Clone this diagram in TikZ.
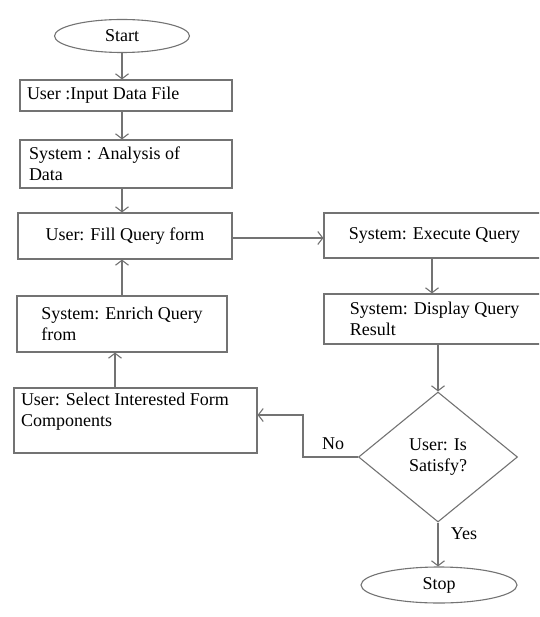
\documentclass[tikz,border=0pt]{standalone}
\usepackage{fontspec}
\setmainfont{Liberation Serif}
\usetikzlibrary{positioning,arrows.meta,shapes.geometric}

\begin{document}
\begin{tikzpicture}[x=1pt,y=-1pt,font=\fontsize{18}{21}\selectfont,
      proc/.style={draw=black!55,line width=1.1pt,inner sep=0pt,align=flush left},
      term/.style={ellipse,draw=black!55,line width=1.1pt,inner sep=0pt},
      decide/.style={diamond,draw=black!55,line width=1.1pt,inner sep=0pt,align=center,minimum width=159pt,minimum height=130pt},
      arr/.style={-{Straight Barb[length=5pt,width=13pt]},draw=black!55,line width=1.1pt}]
    \useasboundingbox (0,0) rectangle (539,617);
    \clip (0,0) rectangle (539,617);
    % left column
    \node[term,minimum width=135pt,minimum height=33pt] (start) at (122,36) {Start};
    \node[proc,minimum width=212pt,minimum height=31pt,text width=198pt] (input) at (126,95.5) {User :Input Data File};
    \node[proc,minimum width=212pt,minimum height=48pt,text width=194pt] (analysis) at (126,164) {System : Analysis of\\Data};
    \node[proc,minimum width=214pt,minimum height=46pt] (fill) at (125,236) {User: Fill Query form};
    \node[proc,minimum width=210pt,minimum height=56pt] (enrich) at (122,324) {System: Enrich Query\\from};
    \node[proc,minimum width=243pt,minimum height=65pt,text width=229pt] (select) at (135.5,420.5) {User: Select Interested Form\\Components\\\mbox{}};
    % right column
    \node[proc,minimum width=221pt,minimum height=45pt] (execute) at (434.5,235.5) {System: Execute Query};
    \node[proc,minimum width=221pt,minimum height=50pt] (display) at (434.5,319) {System: Display Query\\Result};
    \node[decide] (satisfy) at (438,457) {User: Is\\Satisfy?};
    \node[term,minimum width=156pt,minimum height=36pt] (stop) at (439,585) {Stop};
    % connectors
    \draw[arr] (start.south -| 122,0) -- (input.north -| 122,0);
    \draw[arr] (input.south -| 122,0) -- (analysis.north -| 122,0);
    \draw[arr] (analysis.south -| 122,0) -- (fill.north -| 122,0);
    \draw[arr] (enrich.north) -- (fill.south -| enrich.north);
    \draw[arr] (select.north -| 115,0) -- (enrich.south -| 115,0);
    \draw[arr] (fill.east |- 0,238) -- (execute.west |- 0,238);
    \draw[arr] (execute.south -| 432,0) -- (display.north -| 432,0);
    \draw[arr] (display.south -| satisfy.north) -- (satisfy.north);
    \coordinate (bend) at (303,457);
    \draw[arr] (satisfy.west) -- node[above,pos=0.45,yshift=3pt] (no) {No} (bend) |- (select.east |- 0,415);
    \draw[arr] (satisfy.south) -- node[right,pos=0.25,xshift=9pt] (yes) {Yes} (stop.north -| satisfy.south);
  \end{tikzpicture}
\end{document}
